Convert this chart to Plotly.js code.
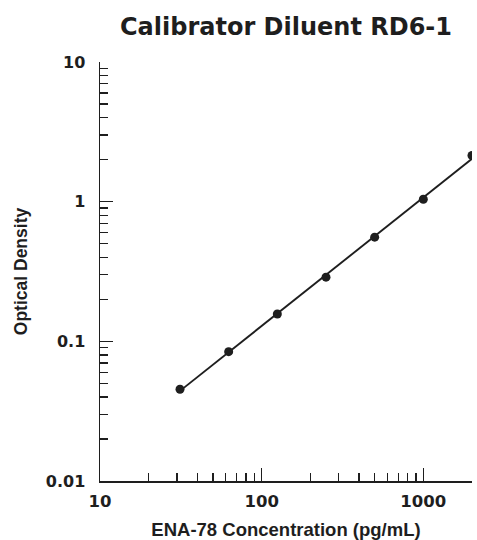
<!DOCTYPE html>
<html><head><meta charset="utf-8">
<script src="https://cdn.plot.ly/plotly-3.0.1.min.js"></script>
<style>html,body{margin:0;padding:0;background:#fff}#chart{width:477px;height:540px}</style>
</head><body><div id="chart"></div>
<script>
const concentration = [31.25, 62.5, 125, 250, 500, 1000, 2000];
const opticalDensity = [0.0454, 0.0843, 0.157, 0.288, 0.557, 1.04, 2.14];
const titleText = 'Calibrator Diluent RD6-1';
const xTitle = 'ENA-78 Concentration (pg/mL)';
const yTitle = 'Optical Density';
const xTickVals = [10, 100, 1000];
const xTickText = ['10', '100', '1000'];
const yTickVals = [0.01, 0.1, 1, 10];
const yTickText = ['0.01', '0.1', '1', '10'];

// log-log linear fit through the standards
const lx = concentration.map(Math.log10), ly = opticalDensity.map(Math.log10);
const n = lx.length, mx = lx.reduce((a,b)=>a+b)/n, my = ly.reduce((a,b)=>a+b)/n;
let sxy=0, sxx=0; for(let i=0;i<n;i++){sxy+=(lx[i]-mx)*(ly[i]-my); sxx+=(lx[i]-mx)**2;}
const slope = sxy/sxx, icpt = my - slope*mx;
const fitX = [concentration[0], concentration[n-1]];
const fitY = fitX.map(x => Math.pow(10, icpt + slope*Math.log10(x)));

const ink = '#1e1e1e';
const helv = 'Liberation Sans, Arial, Helvetica, sans-serif';
const wide = 'DejaVu Sans, Verdana, sans-serif';
const bold = a => a.map(t => '<b>' + t + '</b>');
const traces = [
  {x: fitX, y: fitY, mode: 'lines', line: {color: ink, width: 1.9}, hoverinfo: 'skip'},
  {x: concentration, y: opticalDensity, mode: 'markers', marker: {color: ink, size: 9}}
];
const axisCommon = {
  type: 'log', showgrid: false, zeroline: false, showline: true, linecolor: ink, linewidth: 1.5,
  ticks: 'inside', ticklen: 13, tickwidth: 1.3, tickcolor: ink,
  minor: {ticks: 'inside', ticklen: 8, tickwidth: 1.3, tickcolor: ink, dtick: 'D1', showgrid: false},
  mirror: false
};
const layout = {
  width: 477, height: 540, showlegend: false,
  paper_bgcolor: '#fff', plot_bgcolor: '#fff',
  margin: {l: 100, r: 5, t: 62, b: 59},
  font: {family: helv, color: ink},
  title: {text: '<b>' + titleText + '</b>', font: {size: 24, family: wide, color: ink}, x: 0.5, xref: 'paper', y: 1 - 27/540, yref: 'container', yanchor: 'middle'},
  xaxis: Object.assign({}, axisCommon, {range: [1, Math.log10(2000)], tickvals: xTickVals, ticktext: bold(xTickText),
    tickfont: {size: 16.5, family: wide, color: ink}, ticklabelstandoff: 5,
    title: {text: '<b>' + xTitle + '</b>', font: {size: 18.5, family: helv, color: ink}, standoff: 14}}),
  yaxis: Object.assign({}, axisCommon, {range: [-2, 1], tickvals: yTickVals, ticktext: bold(yTickText),
    tickfont: {size: 16, family: wide, color: ink}, ticklabelstandoff: 10,
    title: {text: '<b>' + yTitle + '</b>', font: {size: 17.5, family: helv, color: ink}, standoff: 13}})
};
Plotly.newPlot('chart', traces, layout, {displayModeBar: false, staticPlot: true});
</script></body></html>
